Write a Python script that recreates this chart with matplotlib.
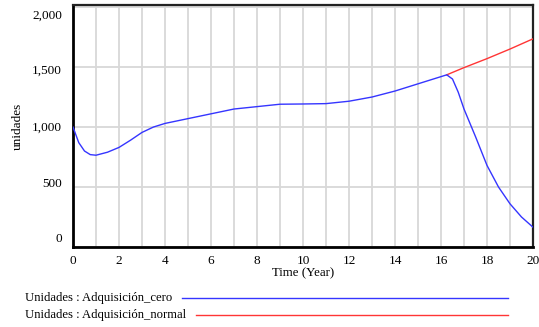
import matplotlib
matplotlib.use("Agg")
import matplotlib.pyplot as plt
from matplotlib.transforms import ScaledTranslation
from matplotlib.lines import Line2D

# Simulation output (Time in years, Unidades)
t_cero = [0, 0.25, 0.5, 0.75, 1, 1.5, 2, 2.5, 3, 3.5, 4, 5, 6, 7, 8, 9, 10, 11,
          12, 13, 14, 15, 16, 16.25, 16.5, 16.75, 17, 17.5, 18, 18.5, 19, 19.5, 20]
unidades_cero = [1000, 870, 800, 770, 765, 790, 830, 890, 955, 1000, 1030, 1070,
                 1110, 1150, 1170, 1190, 1192, 1195, 1215, 1250, 1300, 1360, 1420,
                 1435, 1400, 1290, 1150, 920, 680, 500, 360, 250, 165]
t_normal = [16.25, 17, 18, 19, 20]
unidades_normal = [1435, 1495, 1570, 1650, 1735]

x_ticks = [0, 2, 4, 6, 8, 10, 12, 14, 16, 18, 20]
y_ticks = [0, 500, 1000, 1500, 2000]
y_tick_labels = ["0", "500", "1,000", "1,500", "2,000"]
series_names = ["Unidades : Adquisición_cero", "Unidades : Adquisición_normal"]
series_colors = ["#3535ff", "#ff3535"]

plt.rcParams["font.family"] = ["Liberation Serif", "DejaVu Serif"]
plt.rcParams["font.size"] = 9

fig = plt.figure(figsize=(5.39, 3.27), dpi=100)
ax = fig.add_axes([73 / 539, 1 - 247 / 327, 460 / 539, 242 / 327])

ax.plot(t_normal, unidades_normal, color=series_colors[1], lw=1.0, zorder=3)
ax.plot(t_cero, unidades_cero, color=series_colors[0], lw=1.0, zorder=4)

ax.set_xlim(0, 20)
ax.set_ylim(0, 2017)
ax.set_xticks(x_ticks)
ax.set_xticks(range(0, 21), minor=True)
ax.set_yticks(y_ticks)
ax.set_yticklabels(y_tick_labels)
ax.tick_params(length=0, which="both", pad=8, labelsize=9.5)
ax.tick_params(axis="x", pad=6)

ax.grid(True, which="both", axis="x", color="#d8d8d8", lw=1.3)
ax.grid(True, which="major", axis="y", color="#d8d8d8", lw=1.3)
ax.set_axisbelow(True)

for side in ["left", "bottom"]:
    ax.spines[side].set_linewidth(2.0)
    ax.spines[side].set_color("black")
for side in ["top", "right"]:
    ax.spines[side].set_linewidth(1.6)
    ax.spines[side].set_color("#222222")

# spread the y labels a little as in the original viewer
offsets_px = [9, 5, 1, -2, -7]
for lab, dy in zip(ax.get_yticklabels(), offsets_px):
    lab.set_transform(lab.get_transform() + ScaledTranslation(0, dy / 100, fig.dpi_scale_trans))

ax.set_xlabel("Time (Year)", fontsize=9.3, labelpad=0)
ax.set_ylabel("unidades", fontsize=9.5, labelpad=6)

# legend rows below the axes
fig.canvas.draw()
renderer = fig.canvas.get_renderer()
rows_y = [1 - 298 / 327, 1 - 315 / 327]
for name, color, y in zip(series_names, series_colors, rows_y):
    txt = fig.text(25 / 539, y, name, fontsize=9.1, va="center", ha="left")
    bb = txt.get_window_extent(renderer)
    x0 = (bb.x1 + 10) / fig.bbox.width
    fig.add_artist(Line2D([x0, 508 / 539], [y, y], color=color, lw=1.0,
                          transform=fig.transFigure))

fig.savefig("out.png", dpi=100)
